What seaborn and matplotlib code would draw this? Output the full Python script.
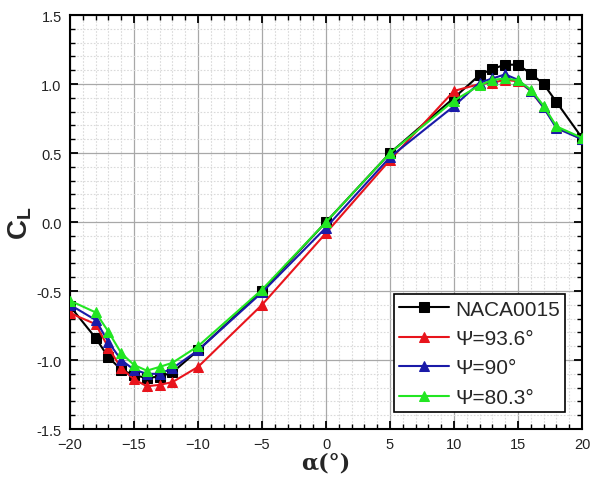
import numpy as np
import pandas as pd
import matplotlib
matplotlib.use("Agg")
import matplotlib.pyplot as plt
import seaborn as sns
from matplotlib.ticker import MultipleLocator

sns.set_theme(style="white")
plt.rcParams['font.family'] = ['Liberation Sans', 'DejaVu Sans']

alpha_naca = [-20, -18, -17, -16, -15, -14, -13, -12, -10, -5, 0, 5, 10, 12, 13, 14, 15, 16, 17, 18, 20]
cl_naca = [-0.61, -0.84, -0.98, -1.07, -1.11, -1.13, -1.12, -1.09, -0.93, -0.50, 0.0, 0.50, 0.90,
           1.065, 1.11, 1.14, 1.14, 1.075, 1.0, 0.87, 0.61]

alpha_psi = [-20, -18, -17, -16, -15, -14, -13, -12, -10, -5, 0, 5, 10, 12, 13, 14, 15, 16, 17, 18, 20]
cl_936 = [-0.66, -0.74, -0.91, -1.06, -1.14, -1.19, -1.18, -1.16, -1.05, -0.60, -0.08, 0.45, 0.95,
          1.0, 1.01, 1.03, 1.02, 0.95, 0.83, 0.69, 0.60]
cl_90 = [-0.60, -0.71, -0.87, -1.00, -1.07, -1.10, -1.10, -1.06, -0.93, -0.51, -0.04, 0.47, 0.84,
         1.01, 1.04, 1.07, 1.03, 0.95, 0.83, 0.68, 0.60]
cl_803 = [-0.57, -0.655, -0.795, -0.95, -1.036, -1.077, -1.05, -1.02, -0.90, -0.49, 0.0, 0.50, 0.88,
          0.99, 1.03, 1.04, 1.027, 0.96, 0.843, 0.693, 0.61]

labels = ["NACA0015", "Ψ=93.6°", "Ψ=90°", "Ψ=80.3°"]
colors = ["black", "#e8141c", "#1a1aa8", "#22e622"]
markers = ["s", "^", "^", "^"]
series = [(alpha_naca, cl_naca), (alpha_psi, cl_936), (alpha_psi, cl_90), (alpha_psi, cl_803)]

fig = plt.figure(figsize=(6.0, 4.81), dpi=100)
ax = fig.add_axes([0.1167, 0.106, 0.8533, 0.8607])

for (xs, ys), lab, c, m in zip(series, labels, colors, markers):
    df = pd.DataFrame({"alpha": xs, "cl": ys})
    sns.lineplot(data=df, x="alpha", y="cl", ax=ax, color=c, marker=m, markersize=6.5,
                 markeredgecolor=c, linewidth=1.5, label=lab, sort=False, zorder=3)

ax.set_xlim(-20, 20)
ax.set_ylim(-1.5, 1.5)
ax.xaxis.set_major_locator(MultipleLocator(5))
ax.xaxis.set_minor_locator(MultipleLocator(1))
ax.yaxis.set_major_locator(MultipleLocator(0.5))
ax.yaxis.set_minor_locator(MultipleLocator(0.1))
ax.set_yticklabels([f"{v:.1f}" for v in ax.get_yticks()])

ax.grid(which="major", color="#a8a8a8", linewidth=0.9, linestyle="-", zorder=0)
ax.grid(which="minor", color="#dadada", linewidth=0.8, linestyle=(0, (1.5, 1.5)), zorder=0)
ax.set_axisbelow(True)

for s in ax.spines.values():
    s.set_color("black")
    s.set_linewidth(1.5)

ax.tick_params(which="both", direction="in", top=True, right=True, bottom=True, left=True,
               color="black")
ax.tick_params(which="major", length=6, width=1.3, labelsize=10.5, pad=6, labelcolor="#222222")
ax.tick_params(which="minor", length=3.5, width=1.0)

ax.set_xlabel("α(°)", fontsize=16, fontweight="bold", family=["DejaVu Serif"], labelpad=0)
ax.set_ylabel("C$_\\mathregular{L}$", fontsize=20, fontweight="bold", labelpad=2)

leg = ax.legend(loc="lower right", bbox_to_anchor=(0.967, 0.041), fontsize=15, frameon=True,
                fancybox=False, edgecolor="black", handlelength=2.4, borderpad=0.25,
                labelspacing=0.5, handletextpad=0.3, borderaxespad=0.0)
leg.get_frame().set_linewidth(1.2)
leg.get_frame().set_alpha(1)

fig.savefig("out.png", dpi=100)
